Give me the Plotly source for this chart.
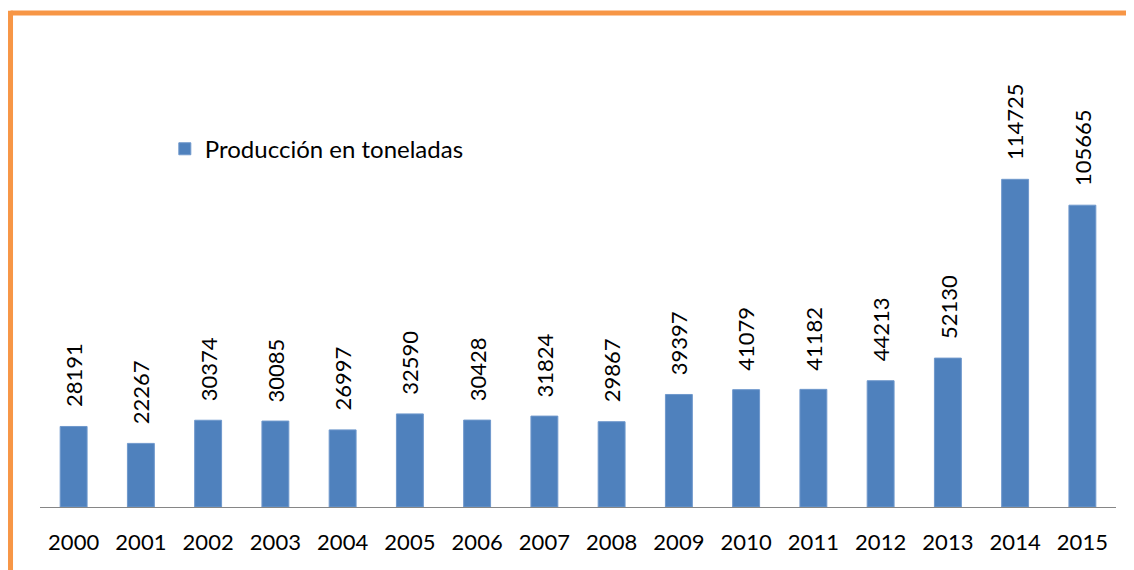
import plotly.graph_objects as go

years = ["2000", "2001", "2002", "2003", "2004", "2005", "2006", "2007",
         "2008", "2009", "2010", "2011", "2012", "2013", "2014", "2015"]
produccion = [28191, 22267, 30374, 30085, 26997, 32590, 30428, 31824,
              29867, 39397, 41079, 41182, 44213, 52130, 114725, 105665]

FONT = "Lato, 'Open Sans', sans-serif"

fig = go.Figure()
fig.add_trace(go.Bar(
    x=years,
    y=produccion,
    name="Producción en toneladas",
    marker=dict(color="#4F81BD", line=dict(color="#6F98CC", width=1)),
    width=0.4,
))

# rotated value labels above the bars (x given as category index)
for i, v in enumerate(produccion):
    fig.add_annotation(
        x=i, y=v, text=str(v), textangle=-90,
        showarrow=False, yanchor="bottom", xanchor="center",
        yshift=17, font=dict(family=FONT, size=22, color="#000000"),
    )

# orange frame on top and left
fig.add_shape(type="line", xref="paper", yref="paper",
              x0=-0.0274, x1=1.05, y0=1.081, y1=1.081,
              line=dict(color="#F79646", width=5))
fig.add_shape(type="line", xref="paper", yref="paper",
              x0=-0.0274, x1=-0.0274, y0=-0.2, y1=1.086,
              line=dict(color="#F79646", width=5))

fig.update_layout(
    width=1126, height=562,
    margin=dict(l=32, r=18, t=42, b=63),
    paper_bgcolor="white", plot_bgcolor="white",
    font=dict(family=FONT, size=22, color="#000000"),
    showlegend=True,
    legend=dict(x=0.116, y=0.783, xanchor="left", yanchor="middle",
                bgcolor="rgba(0,0,0,0)", font=dict(size=24)),
    xaxis=dict(type="category", range=[-0.5, len(years) - 0.5],
               showline=True, linecolor="#868686",
               linewidth=1, showgrid=False, ticks="", ticklabelstandoff=16,
               tickfont=dict(size=22), automargin=False),
    yaxis=dict(range=[0, 160000], visible=False, showgrid=False,
               zeroline=False, automargin=False),
)

fig.write_html("out.html")
